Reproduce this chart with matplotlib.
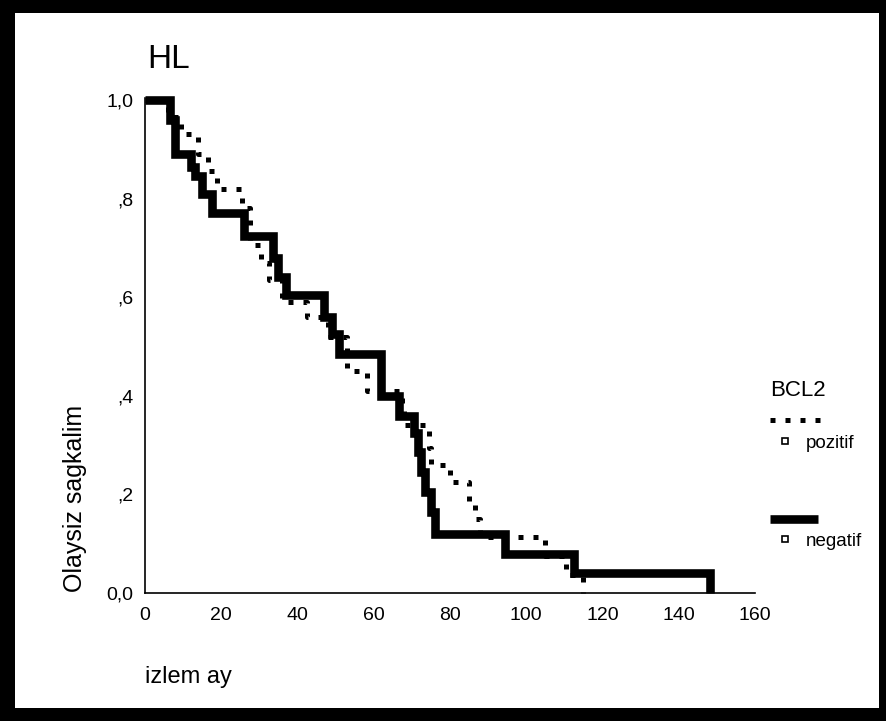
import matplotlib
matplotlib.use("Agg")
import matplotlib.pyplot as plt
from matplotlib.patches import Rectangle
from matplotlib.lines import Line2D

plt.rcParams['font.family'] = ['Liberation Sans', 'DejaVu Sans']

# Kaplan-Meier steps (time in months, survival after event)
neg_time = [0, 6.5, 8, 12, 13, 15, 17.5, 26, 33.5, 35, 37, 47, 49, 51, 62,
            66.5, 70.5, 71.5, 72.5, 73.5, 75, 76, 94.5, 112.5, 148.2]
neg_surv = [1.0, 0.96, 0.89, 0.865, 0.845, 0.81, 0.77, 0.725, 0.68, 0.64,
            0.605, 0.56, 0.525, 0.485, 0.40, 0.36, 0.325, 0.285, 0.245,
            0.205, 0.165, 0.12, 0.08, 0.04, 0.0]

pos_time = [0, 6, 9.5, 14, 16.5, 19, 25.5, 27.5, 30.5, 32.5, 36, 42.5, 48,
            53, 58.3, 67.5, 68, 74.5, 75, 80, 85, 86.5, 88, 105, 110.5, 115]
pos_surv = [1.0, 0.965, 0.93, 0.89, 0.855, 0.82, 0.78, 0.705, 0.67, 0.635,
            0.59, 0.56, 0.52, 0.45, 0.41, 0.375, 0.34, 0.295, 0.26, 0.225,
            0.185, 0.15, 0.113, 0.075, 0.037, 0.0]

x_ticks = [0, 20, 40, 60, 80, 100, 120, 140, 160]
y_ticks = [0.0, 0.2, 0.4, 0.6, 0.8, 1.0]
y_tick_labels = ["0,0", ",2", ",4", ",6", ",8", "1,0"]

W, H = 887, 721


def fx(px):
    return px / W


def fy(py):
    return 1 - py / H


def main():
    fig = plt.figure(figsize=(W / 100, H / 100), dpi=100)
    fig.patch.set_facecolor("black")
    fig.add_artist(Rectangle((fx(15), fy(708)), fx(879) - fx(15), fy(13) - fy(708),
                             transform=fig.transFigure, facecolor="white",
                             edgecolor="none", zorder=0))

    ax = fig.add_axes([fx(145), fy(593), fx(755) - fx(145), fy(98) - fy(593)])
    ax.set_facecolor("none")

    ax.plot(pos_time, pos_surv, drawstyle="steps-post", color="black",
            lw=3.6, dashes=(1, 2), dash_capstyle="butt", zorder=2,
            clip_on=False)
    ax.plot(neg_time, neg_surv, drawstyle="steps-post", color="black",
            lw=6.2, solid_capstyle="butt", solid_joinstyle="miter", zorder=3,
            clip_on=False)

    ax.set_xlim(0, 160)
    ax.set_ylim(0, 1.004)
    ax.set_xticks(x_ticks)
    ax.set_yticks(y_ticks)
    ax.set_yticklabels(y_tick_labels)
    ax.tick_params(axis="both", length=0, labelsize=14)
    ax.tick_params(axis="x", pad=10)
    ax.tick_params(axis="y", pad=8.5)
    for s in ["top", "right"]:
        ax.spines[s].set_visible(False)
    for s in ["left", "bottom"]:
        ax.spines[s].set_linewidth(1.2)

    fig.text(fx(147), fy(68), "HL", fontsize=24, va="baseline", ha="left")
    fig.text(fx(75), fy(498), "Olaysiz sagkalim", fontsize=18,
             rotation=90, ha="center", va="center")
    fig.text(fx(145), fy(677), "izlem ay", fontsize=17, ha="left", va="center")

    # legend drawn by hand
    fig.text(fx(770), fy(391), "BCL2", fontsize=16, ha="left", va="center")
    fig.add_artist(Line2D([fx(770), fx(820)], [fy(420), fy(420)], color="black",
                          lw=3.6, dashes=(1, 2), dash_capstyle="butt",
                          transform=fig.transFigure))
    fig.add_artist(Line2D([fx(785)], [fy(441)], marker="s", ms=5,
                          mfc="white", mec="black", mew=1.2, linestyle="none",
                          transform=fig.transFigure))
    fig.text(fx(806), fy(444), "pozitif", fontsize=13.5, ha="left", va="center")
    fig.add_artist(Line2D([fx(770), fx(818)], [fy(519), fy(519)], color="black",
                          lw=6.2, solid_capstyle="butt",
                          transform=fig.transFigure))
    fig.add_artist(Line2D([fx(785)], [fy(539)], marker="s", ms=5,
                          mfc="white", mec="black", mew=1.2, linestyle="none",
                          transform=fig.transFigure))
    fig.text(fx(806), fy(542), "negatif", fontsize=13.5, ha="left", va="center")

    fig.savefig("out.png", dpi=100, facecolor=fig.get_facecolor())


if __name__ == "__main__":
    main()
